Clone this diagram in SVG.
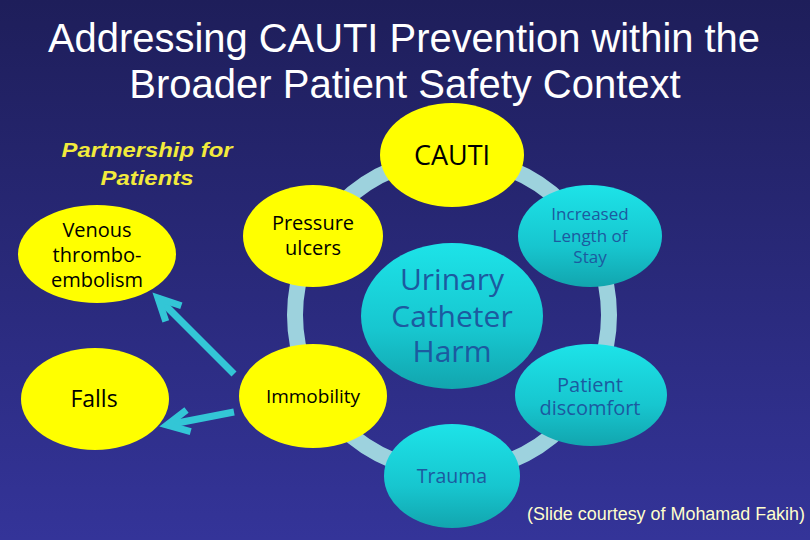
<svg xmlns="http://www.w3.org/2000/svg" width="810" height="540" viewBox="0 0 810 540">
<defs>
<linearGradient id="bg" x1="0" y1="0" x2="0" y2="1">
<stop offset="0" stop-color="#1e1e5a"/>
<stop offset="1" stop-color="#343499"/>
</linearGradient>
<linearGradient id="cy" x1="0" y1="0" x2="0" y2="1">
<stop offset="0" stop-color="#1de3e8"/>
<stop offset="0.6" stop-color="#17c6cf"/>
<stop offset="1" stop-color="#12a5ae"/>
</linearGradient>
<marker id="chev" markerUnits="userSpaceOnUse" markerWidth="40" markerHeight="40" viewBox="-30 -20 40 40" refX="0" refY="0" orient="auto" overflow="visible">
<path d="M-22,-11 L0,0 L-22,11" fill="none" stroke="#33c6d6" stroke-width="7" stroke-linejoin="miter"/>
</marker>
</defs>
<style>
.title{font-family:"Liberation Sans",Arial,sans-serif;font-size:40px;fill:#ffffff;text-anchor:middle}
.pfp{font-family:"Liberation Sans",Arial,sans-serif;font-size:21px;font-weight:bold;font-style:italic;fill:#f2ea3c;text-anchor:middle}
.yel{fill:#ffff00}
.cyn{fill:url(#cy)}
.lb{font-family:"Open Sans","Noto Sans",sans-serif;fill:#000000;text-anchor:middle}
.lc{font-family:"Open Sans","Noto Sans",sans-serif;fill:#1c5aa0;text-anchor:middle}
.arrow{fill:none;stroke:#33c6d6;stroke-width:7;marker-end:url(#chev)}
.credit{font-family:"Liberation Sans",Arial,sans-serif;font-size:18px;fill:#ffffcc}
</style>
<rect width="810" height="540" fill="url(#bg)"/>
<text class="title" x="404" y="52" textLength="712" lengthAdjust="spacingAndGlyphs">Addressing CAUTI Prevention within the</text>
<text class="title" x="405" y="98">Broader Patient Safety Context</text>
<g id="partnership-label">
<text class="pfp" x="147" y="157" textLength="171" lengthAdjust="spacingAndGlyphs">Partnership for</text>
<text class="pfp" x="147" y="185" textLength="93" lengthAdjust="spacingAndGlyphs">Patients</text>
</g>
<g id="connectors">
<circle cx="452" cy="315" r="157" fill="none" stroke="#a3dbe3" stroke-width="16" opacity="0.95"/>
<path class="arrow" d="M234,374 L158,298"/>
<path class="arrow" d="M234,412 L167,425"/>
</g>
<g id="venous">
<ellipse class="yel" cx="97" cy="254" rx="79" ry="49"/>
<text class="lb" font-size="20" x="97" y="237">Venous</text>
<text class="lb" font-size="20" x="97" y="262">thrombo-</text>
<text class="lb" font-size="20" x="97" y="287">embolism</text>
</g>
<g id="falls">
<ellipse class="yel" cx="95" cy="399" rx="74" ry="51"/>
<text class="lb" font-size="23" x="94" y="407">Falls</text>
</g>
<g id="cauti">
<ellipse class="yel" cx="452" cy="155" rx="72" ry="52"/>
<text class="lb" font-size="27" x="452" y="165">CAUTI</text>
</g>
<g id="pressure-ulcers">
<ellipse class="yel" cx="313" cy="236" rx="70" ry="51"/>
<text class="lb" font-size="20" x="313" y="230">Pressure</text>
<text class="lb" font-size="20" x="313" y="255">ulcers</text>
</g>
<g id="immobility">
<ellipse class="yel" cx="313" cy="396" rx="74" ry="52"/>
<text class="lb" font-size="19" x="313" y="403">Immobility</text>
</g>
<g id="increased-length-of-stay">
<ellipse class="cyn" cx="590" cy="236" rx="72" ry="51"/>
<text class="lc" font-size="17" x="590" y="220" fill="#2a6cac">Increased</text>
<text class="lc" font-size="17" x="590" y="242" fill="#2a6cac">Length of</text>
<text class="lc" font-size="17" x="590" y="263" fill="#2a6cac">Stay</text>
</g>
<g id="patient-discomfort">
<ellipse class="cyn" cx="591" cy="395" rx="76" ry="51"/>
<text class="lc" font-size="20" x="590" y="392">Patient</text>
<text class="lc" font-size="20" x="590" y="415">discomfort</text>
</g>
<g id="trauma">
<ellipse class="cyn" cx="452" cy="476" rx="68" ry="52"/>
<text class="lc" font-size="19.5" x="452" y="483">Trauma</text>
</g>
<g id="urinary-catheter-harm">
<ellipse class="cyn" cx="452" cy="316" rx="91" ry="73"/>
<text class="lc" font-size="30" x="452" y="290">Urinary</text>
<text class="lc" font-size="30" x="452" y="327">Catheter</text>
<text class="lc" font-size="30" x="452" y="362">Harm</text>
</g>
<text class="credit" x="527" y="520" textLength="278" lengthAdjust="spacingAndGlyphs">(Slide courtesy of Mohamad Fakih)</text>
</svg>
